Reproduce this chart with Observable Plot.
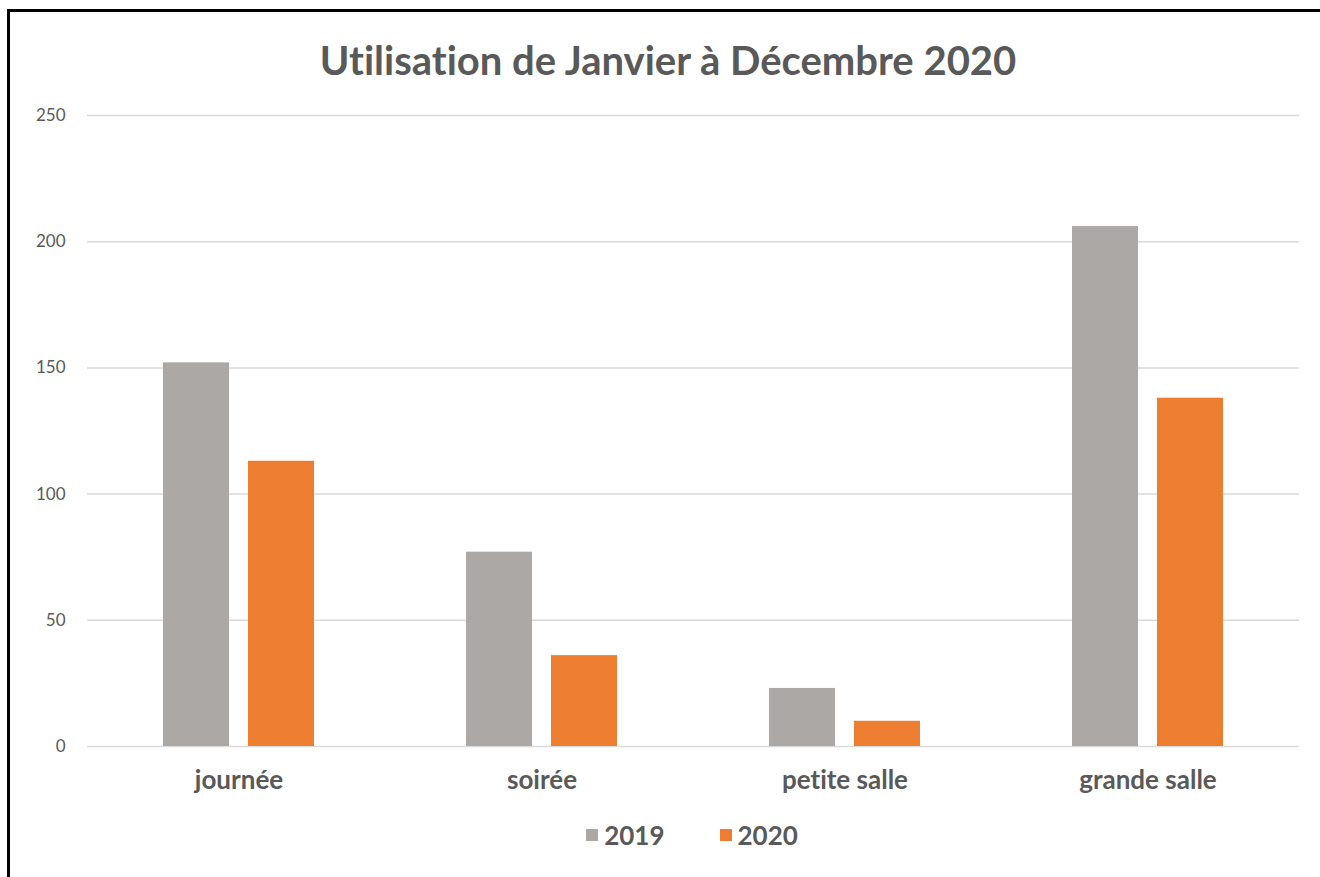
<!DOCTYPE html>
<html>
<head>
<meta charset="utf-8">
<script src="https://cdn.jsdelivr.net/npm/d3@7"></script>
<script src="https://cdn.jsdelivr.net/npm/@observablehq/plot@0.6"></script>
<style>
  html, body { margin: 0; padding: 0; background: #fff; width: 1320px; height: 877px; overflow: hidden; }
  body { position: relative; font-family: Lato, "Open Sans", sans-serif; color: #595959; font-variant-ligatures: none; }
  #frame { position: absolute; left: 7px; top: 9px; width: 1400px; height: 1000px;
           border-top: 3px solid #000; border-left: 3px solid #000; box-sizing: border-box; pointer-events: none; }
  #title { height: 100px; box-sizing: border-box; padding-top: 38px; padding-left: 16px;
           text-align: center; font-size: 40px; line-height: 44px; font-weight: bold; color: #595959; }
  #chart svg { display: block; font-variant-ligatures: none; }
  #legend { height: 77px; display: flex; justify-content: center; align-items: center;
            padding-left: 64px; box-sizing: border-box; padding-bottom: 8px; }
  .item { display: flex; align-items: center; font-weight: bold; font-size: 26px; color: #595959; }
  .item + .item { margin-left: 55px; }
  .sw { width: 12px; height: 12px; margin-right: 6px; }
</style>
</head>
<body>
<div id="frame"></div>
<div id="title"></div>
<div id="chart"></div>
<div id="legend"></div>
<script>
const titleText = "Utilisation de Janvier à Décembre 2020";
const categories = ["journée", "soirée", "petite salle", "grande salle"];
const years = ["2019", "2020"];
const values2019 = [152, 77, 23, 206];
const values2020 = [113, 36, 10, 138];
const yTicks = [0, 50, 100, 150, 200, 250];
const colors = ["#ABA8A6", "#ED7D31"];

const data = categories.flatMap((c, i) => [
  {cat: c, year: years[0], value: values2019[i]},
  {cat: c, year: years[1], value: values2020[i]}
]);

document.getElementById("title").textContent = titleText;

const chart = Plot.plot({
  width: 1320,
  height: 700,
  marginTop: 15,
  marginBottom: 54,
  marginLeft: 85,
  marginRight: 20,
  style: {fontFamily: "Lato, 'Open Sans', sans-serif", background: "transparent"},
  fx: {domain: categories, padding: 0, label: null},
  x: {domain: years, paddingInner: 0.221, paddingOuter: 0.876, axis: null, label: null},
  y: {domain: [0, 250], label: null},
  color: {domain: years, range: colors},
  marks: [
    Plot.gridY(yTicks, {stroke: "#d9d9d9", strokeOpacity: 1, strokeWidth: 1.5}),
    Plot.barY(data, {fx: "cat", x: "year", y: "value", fill: "year"}),
    Plot.axisY(yTicks, {tickSize: 0, tickPadding: 22, fontSize: 17, fill: "#595959", label: null}),
    Plot.axisFx({anchor: "bottom", tickSize: 0, tickPadding: 24, fontSize: 26, fontWeight: "bold", fill: "#595959", label: null})
  ]
});
document.getElementById("chart").appendChild(chart);

const legend = document.getElementById("legend");
years.forEach((y, i) => {
  const item = document.createElement("div");
  item.className = "item";
  const sw = document.createElement("span");
  sw.className = "sw";
  sw.style.background = colors[i];
  item.appendChild(sw);
  const t = document.createElement("span");
  t.textContent = y;
  item.appendChild(t);
  legend.appendChild(item);
});
</script>
</body>
</html>
